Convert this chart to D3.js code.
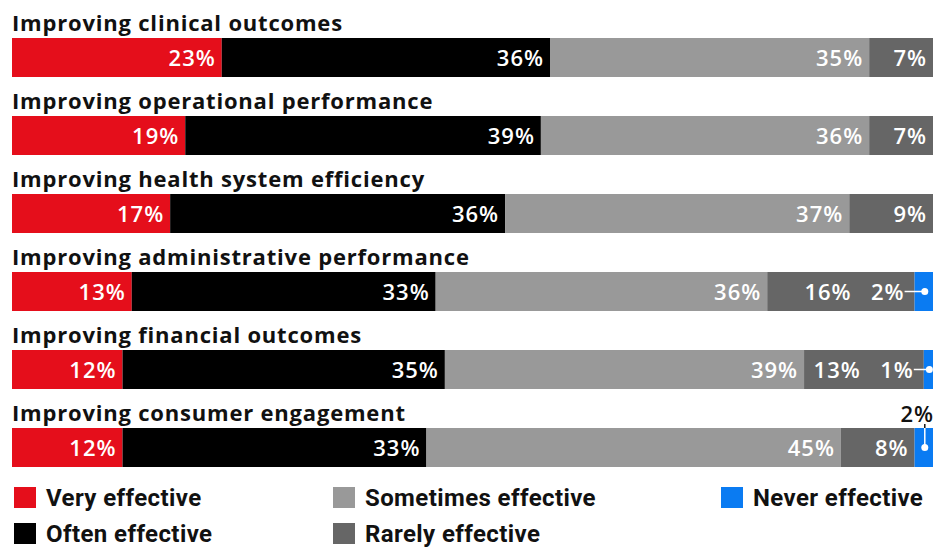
<!DOCTYPE html>
<html>
<head>
<meta charset="utf-8">
<script src="https://cdn.jsdelivr.net/npm/d3@7"></script>
<style>
  body { margin: 0; background: #fff; }
  svg { display: block; }
</style>
</head>
<body>
<svg id="chart" width="935" height="547"></svg>
<script>

// ---- data ---------------------------------------------------------------
var vsCategories = ["Improving clinical outcomes",
                    "Improving operational performance",
                    "Improving health system efficiency",
                    "Improving administrative performance",
                    "Improving financial outcomes",
                    "Improving consumer engagement"];

var vsSeries = ["Very effective", "Often effective", "Sometimes effective", "Rarely effective", "Never effective"];

var vnVery      = [23, 19, 17, 13, 12, 12];
var vnOften     = [36, 39, 36, 33, 35, 33];
var vnSometimes = [35, 36, 37, 36, 39, 45];
var vnRarely    = [7, 7, 9, 16, 13, 8];
var vnNever     = [0, 0, 0, 2, 1, 2];

var vsColors = ["#E50E1B", "#000000", "#999999", "#666666", "#0A7BF2"];

// ---- layout -------------------------------------------------------------
var g_nLeft = 12;
var g_nRight = 933;
var g_nBarTop = 38;
var g_nRowStep = 78;
var g_nBarH = 39;

var sFontTitle = "'Open Sans', 'DejaVu Sans', sans-serif";
var sFontLegend = "Roboto, 'Liberation Sans', sans-serif";

var svg = d3.select("#chart");

var tjRows = vsCategories.map(function(name, i) {
	return { name: name, values: [vnVery[i], vnOften[i], vnSometimes[i], vnRarely[i], vnNever[i]] };
});

var yScale = d3.scaleBand()
				.domain(vsCategories)
				.range([g_nBarTop, g_nBarTop + g_nRowStep * vsCategories.length])
				.paddingInner(0);

function addLabel(g, x, y, s, color) {
	return g.append("text")
		.attr("x", x)
		.attr("y", y)
		.attr("text-anchor", "end")
		.attr("font-family", sFontTitle)
		.attr("font-weight", 600)
		.attr("font-size", "22px")
		.attr("letter-spacing", "1px")
		.attr("fill", color)
		.text(s);
}

tjRows.forEach(function(row, i) {

	var nTotal = d3.sum(row.values);
	var xScale = d3.scaleLinear().domain([0, nTotal]).range([g_nLeft, g_nRight]);
	var nY = yScale(row.name);
	var yMid = nY + g_nBarH / 2;

	var vSeg = [];
	var nAcc = 0;
	row.values.forEach(function(v, k) {
		vSeg.push({ k: k, v: v, x0: nAcc, x1: nAcc + v });
		nAcc += v;
	});
	vSeg = vSeg.filter(function(d) { return d.v > 0; });

	var g = svg.append("g").attr("class", "row_" + i);

	// title
	g.append("text")
		.attr("x", g_nLeft)
		.attr("y", nY - 7)
		.attr("font-family", sFontTitle)
		.attr("font-weight", "bold")
		.attr("font-size", "22px")
		.attr("letter-spacing", "0.8px")
		.attr("fill", "#111")
		.text(row.name);

	g.selectAll("rect.seg")
		.data(vSeg)
		.enter()
		.append("rect")
			.attr("class", "seg")
			.attr("x", function(d) { return xScale(d.x0); })
			.attr("y", nY)
			.attr("width", function(d) { return xScale(d.x1) - xScale(d.x0); })
			.attr("height", g_nBarH)
			.attr("fill", function(d) { return vsColors[d.k]; });

	// labels inside segments (not the small blue one)
	vSeg.filter(function(d) { return d.k < 4; }).forEach(function(d) {
		var xe = xScale(d.x1) - 6;
		// leave room for the "never" label on rows that carry it inside
		if (d.k == 3 && row.values[4] > 0 && i < 5) xe = xScale(d.x1) - 63;
		addLabel(g, xe, yMid + 8, d.v + "%", "#fff");
	});

	// never effective: leader line + dot
	if (row.values[4] > 0) {
		var seg = vSeg.filter(function(d) { return d.k == 4; })[0];
		var xDot = (xScale(seg.x0) + xScale(seg.x1)) / 2 + 1;

		if (i < 5) {
			addLabel(g, xScale(seg.x0) - 10, yMid + 8, seg.v + "%", "#fff");
			g.append("line")
				.attr("x1", xScale(seg.x0) - 10).attr("x2", xDot)
				.attr("y1", yMid).attr("y2", yMid)
				.attr("stroke", "#fff").attr("stroke-width", 1.5);
		} else {
			addLabel(g, g_nRight + 1, nY - 6, seg.v + "%", "#111");
			g.append("line")
				.attr("x1", xDot).attr("x2", xDot)
				.attr("y1", nY - 4).attr("y2", nY)
				.attr("stroke", "#111").attr("stroke-width", 1.5);
			g.append("line")
				.attr("x1", xDot).attr("x2", xDot)
				.attr("y1", nY).attr("y2", yMid)
				.attr("stroke", "#fff").attr("stroke-width", 1.5);
		}
		g.append("circle")
			.attr("cx", xDot)
			.attr("cy", yMid)
			.attr("r", 3.5)
			.attr("fill", "#fff");
	}
});

// ---- legend -------------------------------------------------------------
var vLegendPos = [[14, 487], [14, 523], [333, 487], [333, 523], [721, 487]];

var gLegend = svg.append("g").attr("class", "legend");

vsSeries.forEach(function(s, k) {
	var p = vLegendPos[k];
	gLegend.append("rect")
		.attr("x", p[0]).attr("y", p[1])
		.attr("width", 22).attr("height", 21)
		.attr("fill", vsColors[k]);
	gLegend.append("text")
		.attr("x", p[0] + 32)
		.attr("y", p[1] + 19)
		.attr("font-family", sFontLegend)
		.attr("font-weight", 700)
		.attr("font-size", "24px")
		.attr("letter-spacing", "0.4px")
		.attr("fill", "#111")
		.text(s);
});

</script>
</body>
</html>
